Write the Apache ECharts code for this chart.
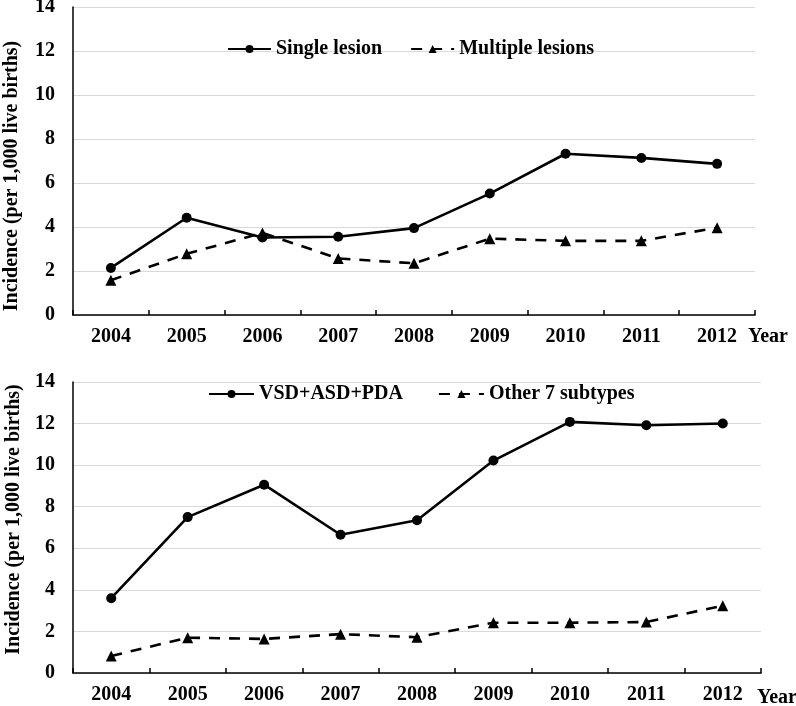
<!DOCTYPE html>
<html>
<head>
<meta charset="utf-8">
<script src="https://cdn.jsdelivr.net/npm/echarts@6/dist/echarts.min.js"></script>
<style>
html,body{margin:0;padding:0;background:#fff;}
#main{width:796px;height:706px;}
</style>
</head>
<body>
<div id="main"></div>
<script>
var years = ['2004','2005','2006','2007','2008','2009','2010','2011','2012'];
var singleLesion = [2.14, 4.42, 3.52, 3.56, 3.95, 5.52, 7.33, 7.14, 6.87];
var multipleLesions = [1.58, 2.78, 3.73, 2.57, 2.35, 3.47, 3.37, 3.37, 3.97];
var vsdAsdPda = [3.6, 7.5, 9.06, 6.65, 7.35, 10.22, 12.08, 11.92, 12.0];
var other7 = [0.82, 1.7, 1.64, 1.87, 1.72, 2.42, 2.42, 2.45, 3.24];
var yTicks = [0, 2, 4, 6, 8, 10, 12, 14];

var FONT = "'Liberation Serif','Times New Roman',serif";
var txt = {fontFamily: FONT, fontWeight: 'bold', fontSize: 20, color: '#000'};

function xAx(gi, yearPadTop, yearGap) {
  return {
    type: 'category', gridIndex: gi, data: years, boundaryGap: true,
    axisLine: {lineStyle: {color: '#000', width: 1.5}},
    axisTick: {show: true, inside: true, length: 5, lineStyle: {color: '#000', width: 1.5}},
    axisLabel: Object.assign({margin: 12}, txt),
    name: 'Year', nameLocation: 'end', nameGap: yearGap,
    nameTextStyle: Object.assign({verticalAlign: 'top', padding: [yearPadTop, 0, 0, 0]}, txt),
    splitLine: {show: false}
  };
}
function yAx(gi, gap, pad) {
  return {
    type: 'value', gridIndex: gi, min: 0, max: 14, interval: 2,
    axisLine: {show: true, lineStyle: {color: '#000', width: 1.5}},
    axisTick: {show: false},
    axisLabel: Object.assign({margin: 18, formatter: function(v){ return yTicks.indexOf(v) >= 0 ? String(v) : ''; }}, txt),
    splitLine: {lineStyle: {color: '#d9d9d9', width: 1.2}},
    name: 'Incidence (per 1,000 live births)', nameLocation: 'middle', nameGap: gap,
    nameTextStyle: Object.assign({padding: pad}, txt)
  };
}
function solid(name, data, xi, yi) {
  return {
    name: name, type: 'line', xAxisIndex: xi, yAxisIndex: yi, data: data,
    symbol: 'circle', symbolSize: 10,
    lineStyle: {color: '#000', width: 2.6},
    itemStyle: {color: '#000'}
  };
}
function dashed(name, data, xi, yi) {
  return {
    name: name, type: 'line', xAxisIndex: xi, yAxisIndex: yi, data: data,
    symbol: 'triangle', symbolSize: 11,
    lineStyle: {color: '#000', width: 2.6, type: [11, 9]},
    itemStyle: {color: '#000'}
  };
}

var chart = echarts.init(document.getElementById('main'), null, {renderer: 'canvas'});
chart.setOption({
  animation: false,
  backgroundColor: '#fff',
  grid: [
    {left: 73, right: 41, top: 7, height: 308, outerBoundsMode: 'none', containLabel: false},
    {left: 73, right: 35, top: 382, height: 291, outerBoundsMode: 'none', containLabel: false}
  ],
  legend: [
    {data: ['Single lesion', 'Multiple lesions'], left: 227, top: 39, padding: 0,
     itemWidth: 43, itemHeight: 10, itemGap: 28, textStyle: txt},
    {data: ['VSD+ASD+PDA', 'Other 7 subtypes'], left: 208, top: 384, padding: 0,
     itemWidth: 45, itemHeight: 10, itemGap: 35, textStyle: txt}
  ],
  xAxis: [xAx(0, 12, -7), xAx(1, 15, -4)],
  yAxis: [yAx(0, 51, [0, 30, 0, 0]), yAx(1, 44, [0, 0, 0, 16])],
  series: [
    solid('Single lesion', singleLesion, 0, 0),
    dashed('Multiple lesions', multipleLesions, 0, 0),
    solid('VSD+ASD+PDA', vsdAsdPda, 1, 1),
    dashed('Other 7 subtypes', other7, 1, 1)
  ]
});
</script>
</body>
</html>
